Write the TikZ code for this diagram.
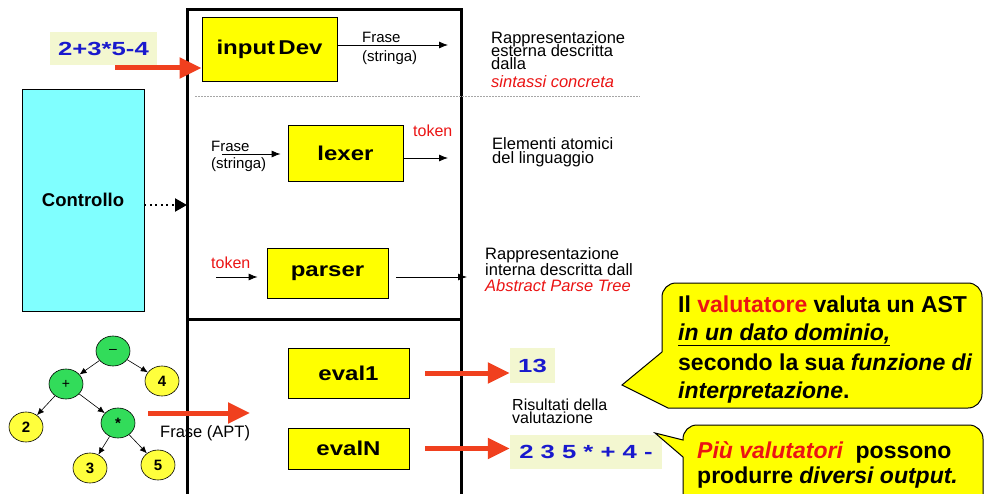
\documentclass[tikz,border=0pt]{standalone}
\usepackage{fontspec}
\setmainfont{Liberation Sans}
\newfontfamily\widefont{Liberation Sans}[FakeStretch=1.35]
\newfontfamily\boxfont{Liberation Sans}[FakeStretch=1.2]
\usetikzlibrary{arrows.meta,shapes.geometric}
\definecolor{boxyellow}{RGB}{255,255,0}
\definecolor{ctrlcyan}{RGB}{128,255,255}
\definecolor{paleyel}{RGB}{243,247,208}
\definecolor{arrred}{RGB}{240,64,30}
\definecolor{numblue}{RGB}{25,25,205}
\definecolor{treegreen}{RGB}{50,220,90}
\definecolor{treeyel}{RGB}{255,255,60}
\definecolor{txtred}{RGB}{235,20,20}
\newcommand\fsz[2]{\fontsize{#1}{#2}\selectfont}
\begin{document}
\begin{tikzpicture}[x=1pt,y=-1pt,
  ybox/.style={draw=black, line width=0.8pt, fill=boxyellow, inner sep=0pt, font=\boxfont\bfseries\fsz{20}{20}},
  numbox/.style={fill=paleyel, inner sep=0pt, text=numblue, font=\widefont\bfseries\fsz{19}{19}},
  txt/.style={inner sep=0pt, anchor=base west},
  desc/.style={txt, font=\fsz{16.5}{16.5}},
  small/.style={txt, font=\fsz{15}{15}},
  calltxt/.style={txt, font=\bfseries\fsz{23}{23}},
  thinarr/.style={draw=black, line width=0.8pt, -{Latex[length=9pt,width=7pt]}},
  redarr/.style={draw=arrred, line width=5pt, -{Triangle[width=20pt,length=22pt]}},
  treenode/.style={ellipse, draw=black, line width=0.6pt, minimum width=34pt, minimum height=30pt, inner sep=0pt, font=\bfseries\fsz{15}{15}},
  treearr/.style={draw=black, line width=0.6pt, -{Latex[length=7pt,width=6pt]}},
  callout/.style={draw=black, line width=1pt, fill=boxyellow}
]
\useasboundingbox (0,0) rectangle (984,494);
\fill[white] (0,0) rectangle (984,494);

% main frame
\draw[line width=3pt] (187,494) -- (187,10) -- (461,10) -- (461,494);
\draw[line width=3pt] (187,319) -- (461,319);
% dotted separator
\draw[gray!70, line width=0.8pt, dash pattern=on 1.5pt off 1.5pt] (195,96) -- (640,96);

% boxes
\node[ybox, minimum width=135pt, minimum height=64pt] (inputDev) at (269.5,49) {input\,Dev};
\node[ybox, minimum width=115pt, minimum height=56pt] (lexer) at (345.5,153) {lexer};
\node[ybox, minimum width=121pt, minimum height=50pt] (parser) at (327.5,273) {parser};
\node[ybox, minimum width=121pt, minimum height=50pt] (eval1) at (348.5,373) {eval1};
\node[ybox, minimum width=121pt, minimum height=41pt] (evalN) at (348.5,448.5) {evalN};

\node[draw=black, line width=0.8pt, fill=ctrlcyan, minimum width=122pt, minimum height=222pt, inner sep=0pt, font=\bfseries\fsz{18.5}{18.5}] (ctrl) at (83,200) {Controllo};

\node[numbox, minimum width=107pt, minimum height=33pt] (expr) at (103.5,48.5) {2+3*5-4};
\node[numbox, minimum width=45pt, minimum height=35pt] (res1) at (532.5,365.5) {13};
\node[numbox, minimum width=152pt, minimum height=34pt] (resN) at (586,452) {2 3 5 * + 4 -};

% top row texts and arrows
\coordinate (inStart) at (115,68);
\draw[redarr] (inStart) -- (inputDev.west |- inStart);
\coordinate (fraseEnd) at (448,45);
\draw[thinarr] (inputDev.east |- fraseEnd) -- (fraseEnd);
\node[small] (fr1a) at (362,43) {Frase};
\node[small] (fr1b) at (362,62) {(stringa)};
\node[desc] (d1a) at (491,44) {Rappresentazione};
\node[desc] (d1b) at (491,57) {esterna descritta};
\node[desc] (d1c) at (491,70) {dalla};
\node[desc, text=txtred, font=\itshape\fsz{16.5}{16.5}] (d1d) at (491,88) {sintassi concreta};

% lexer row
\coordinate (lexIn) at (222,154);
\draw[thinarr] (lexIn) -- ([xshift=-7pt]lexer.west |- lexIn);
\node[small] (fr2a) at (211,152) {Frase};
\node[small] (fr2b) at (211,169) {(stringa)};
\coordinate (lexOut) at (448,158);
\draw[thinarr] (lexer.east |- lexOut) -- (lexOut);
\node[txt, text=txtred, font=\fsz{16}{16}] (tok1) at (413,137) {token};
\node[desc] (d2a) at (492,150) {Elementi atomici};
\node[desc] (d2b) at (492,164) {del linguaggio};

% parser row
\coordinate (parIn) at (216,277);
\draw[thinarr] (parIn) -- ([xshift=-9pt]parser.west |- parIn);
\node[txt, text=txtred, font=\fsz{16}{16}] (tok2) at (211,268) {token};
\coordinate (parOut) at (467,277);
\draw[thinarr, shorten <=8pt] (parser.east |- parOut) -- (parOut);
\node[desc] (d3a) at (485,259) {Rappresentazione};
\node[desc] (d3b) at (485,275) {interna descritta dall};
\node[desc, text=txtred, font=\itshape\fsz{16.5}{16.5}] (d3c) at (485,291) {Abstract Parse Tree};

% controllo dotted arrow
\coordinate (frL) at (187,205);
\draw[line width=2.2pt, dash pattern=on 2pt off 3.5pt, -{Triangle[width=13pt,length=12pt,sep=0pt]}] (ctrl.east |- frL) -- (frL);

% eval arrows
\draw[redarr, shorten <=16pt] (eval1.east) -- (eval1.east -| res1.west);
\draw[redarr, shorten <=16pt] (evalN.east) -- (evalN.east -| resN.west);
\node[txt, font=\fsz{16}{16}] (ris1) at (512,410) {Risultati della};
\node[txt, font=\fsz{16}{16}] (ris2) at (512,423) {valutazione};

% tree
\node[treenode, fill=treegreen, font=\fsz{14}{14}] (tm) at (113,351) {--};
\node[treenode, fill=treegreen, font=\fsz{14}{14}] (tp) at (66,384) {+};
\node[treenode, fill=treeyel] (t4) at (162,381) {4};
\node[treenode, fill=treeyel] (t2) at (26,427) {2};
\node[treenode, fill=treegreen] (ts) at (118,423) {*};
\node[treenode, fill=treeyel] (t3) at (90,468) {3};
\node[treenode, fill=treeyel] (t5) at (158,465) {5};
\draw[treearr] (tm) -- (tp);
\draw[treearr] (tm) -- (t4);
\draw[treearr] (tp) -- (t2);
\draw[treearr] (tp) -- (ts);
\draw[treearr] (ts) -- (t3);
\draw[treearr] (ts) -- (t5);

\coordinate (aptS) at (148,413);
\coordinate (aptE) at (250,413);
\draw[redarr] (aptS) -- (aptE);
\node[txt, font=\fsz{16.5}{16.5}] (apt) at (160,437) {Frase (APT)};

% callout 1
\draw[callout] (662,352) [rounded corners=14pt] -- (662,283) -- (982,283) -- (982,408) [sharp corners] -- (668,408) -- (622,385) -- cycle;
\node[calltxt] (c1a) at (678,312) {Il {\color{txtred}valutatore} valuta un AST};
\node[calltxt] (c1b) at (678,340) {\underline{\itshape in un dato dominio,}};
\node[calltxt] (c1c) at (678,370) {secondo la sua \textit{funzione di}};
\node[calltxt] (c1d) at (678,398) {\textit{interpretazione}.};

% callout 2
\draw[callout] (683,457) -- (655,433) -- (683,440) [rounded corners=14pt] -- (683,425) -- (983,425) -- (983,510) -- (683,510) [sharp corners] -- cycle;
\node[calltxt] (c2a) at (697,458) {{\color{txtred}\itshape Più valutatori}\ \ possono};
\node[calltxt] (c2b) at (697,483) {produrre \textit{diversi output.}};
\end{tikzpicture}
\end{document}
